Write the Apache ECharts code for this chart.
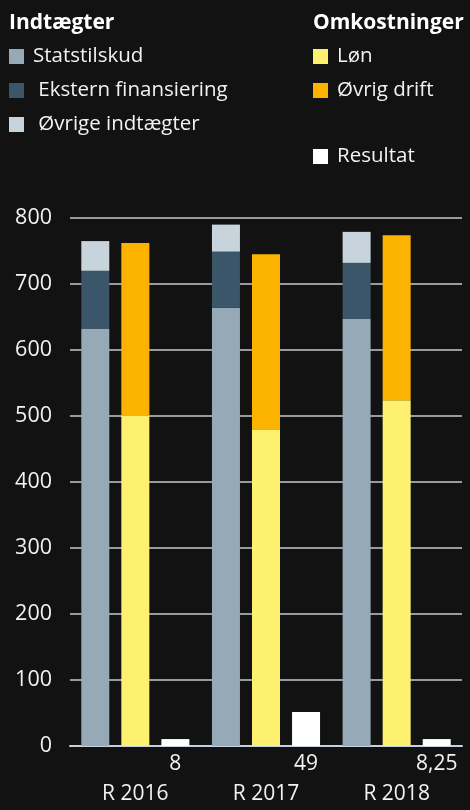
<!DOCTYPE html>
<html>
<head>
<meta charset="utf-8">
<script src="https://cdn.jsdelivr.net/npm/echarts@6/dist/echarts.min.js"></script>
<style>
html,body{margin:0;padding:0;background:#121212;}
#c{width:470px;height:810px;}
</style>
</head>
<body>
<div id="c"></div>
<script>
const categories = ['R 2016', 'R 2017', 'R 2018'];
const statstilskud = [632, 664, 647];
const eksternFinansiering = [88, 85, 85];
const oevrigeIndtaegter = [45, 41, 47];
const loen = [500, 480, 524];
const oevrigDrift = [262, 265, 250];
const resultat = [10.5, 51.5, 10.5];
const resultatLabels = ['8', '49', '8,25'];
const yTicks = [0, 100, 200, 300, 400, 500, 600, 700, 800];

const FONT = '"Open Sans", "Noto Sans", sans-serif';
const chart = echarts.init(document.getElementById('c'), null, {renderer: 'canvas'});

const legendBase = {
  orient: 'vertical',
  icon: 'rect',
  itemWidth: 15,
  itemHeight: 15,
  itemGap: 13,
  padding: 0,
  textStyle: {color: '#f2f2f2', fontSize: 20.5, fontFamily: FONT, padding: [0, 0, 0, 4]},
  selectedMode: false
};

function bar(name, data, stack, color) {
  return {
    name: name, type: 'bar', data: data, stack: stack,
    barWidth: 28, barGap: '43%',
    itemStyle: {color: color},
    emphasis: {disabled: true}
  };
}

chart.setOption({
  backgroundColor: '#121212',
  animation: false,
  title: [
    {text: 'Indtægter', left: 9, top: 13, padding: 0, textStyle: {color: '#ffffff', fontSize: 21, fontWeight: 'bold', fontFamily: FONT}},
    {text: 'Omkostninger', left: 313, top: 13, padding: 0, textStyle: {color: '#ffffff', fontSize: 21, fontWeight: 'bold', fontFamily: FONT}}
  ],
  legend: [
    Object.assign({}, legendBase, {left: 9, top: 46, data: ['Statstilskud', 'Ekstern finansiering', 'Øvrige indtægter'],
      formatter: function (n) { return n === 'Statstilskud' ? n : ' ' + n; }}),
    Object.assign({}, legendBase, {left: 313, top: 46, data: ['Løn', 'Øvrig drift']}),
    Object.assign({}, legendBase, {left: 313, top: 146, data: ['Resultat']})
  ],
  grid: {left: 70, right: 8, top: 218, bottom: 64, containLabel: false},
  xAxis: {
    type: 'category',
    data: categories,
    axisLine: {show: true, lineStyle: {color: '#c3d2de', width: 2}},
    axisTick: {show: false},
    axisLabel: {color: '#f2f2f2', fontSize: 21, fontFamily: FONT, margin: 38}
  },
  yAxis: {
    type: 'value',
    min: yTicks[0], max: yTicks[yTicks.length - 1], interval: 100,
    axisLine: {show: false},
    axisTick: {show: false},
    axisLabel: {color: '#f2f2f2', fontSize: 21.5, fontFamily: FONT, margin: 18},
    splitLine: {show: true, lineStyle: {color: '#949ca2', width: 2}}
  },
  series: [
    bar('Statstilskud', statstilskud, 'ind', '#96a9b7'),
    bar('Ekstern finansiering', eksternFinansiering, 'ind', '#3a5668'),
    bar('Øvrige indtægter', oevrigeIndtaegter, 'ind', '#c8d4dc'),
    bar('Løn', loen, 'omk', '#fff170'),
    bar('Øvrig drift', oevrigDrift, 'omk', '#fbb300'),
    Object.assign(bar('Resultat', resultat, null, '#ffffff'), {
      label: {
        show: true, position: 'bottom', distance: 8,
        color: '#f2f2f2', fontSize: 21, fontFamily: FONT,
        formatter: function (p) { return resultatLabels[p.dataIndex]; }
      }
    })
  ]
});
</script>
</body>
</html>
